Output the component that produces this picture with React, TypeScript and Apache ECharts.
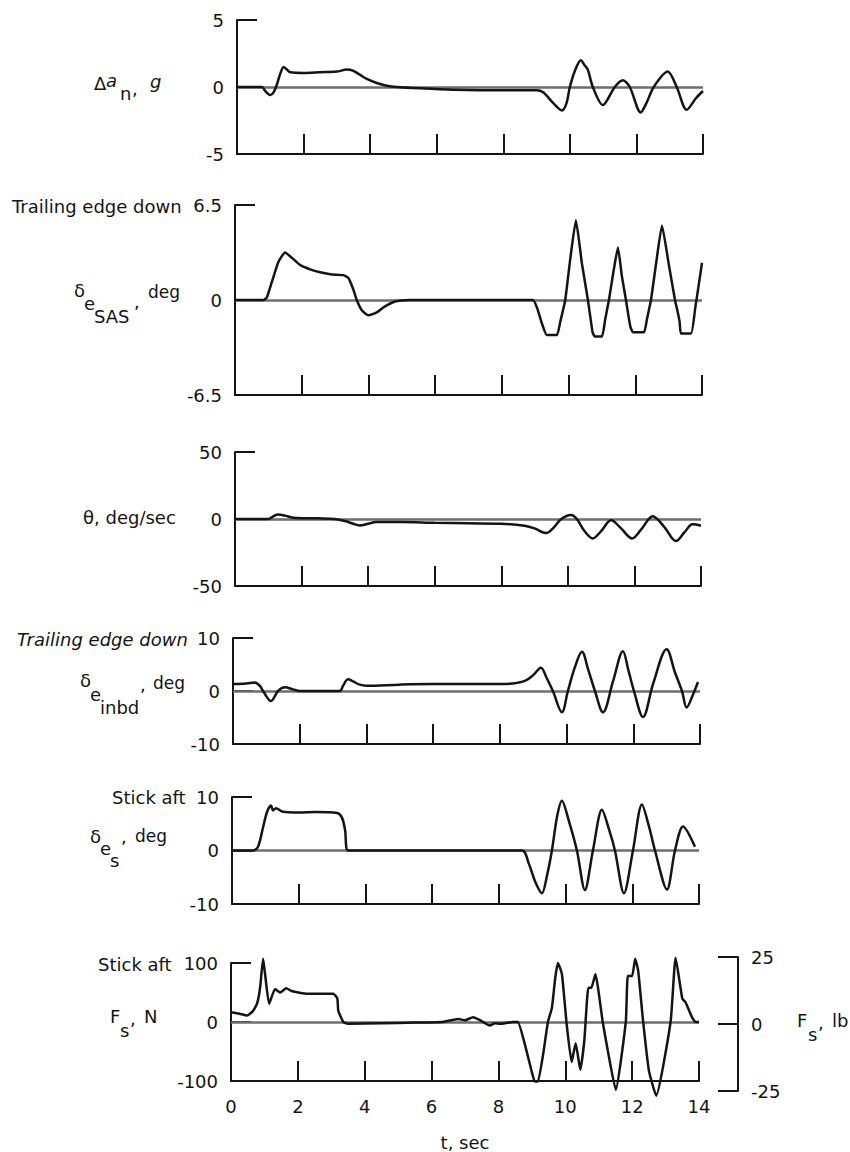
import React, { useEffect, useRef } from 'react';
import * as echarts from 'echarts';

const FONT = "'DejaVu Sans', 'Liberation Sans', sans-serif";
const INK = '#141414';
const ZERO = '#6e6e6e';

// time axis (sec)
const timeMin = 0;
const timeMax = 14;
const timeStep = 2;

// Δa_n, g
const anData: [number, number][] = [
  [0, 0], [0.75, 0], [0.85, -0.3], [1.0, -0.6], [1.1, -0.4], [1.2, 0.2], [1.3, 1.0], [1.4, 1.5],
  [1.5, 1.3], [1.6, 1.1], [2.0, 1.05], [2.5, 1.1], [3.0, 1.15], [3.3, 1.3], [3.5, 1.2], [3.7, 0.9],
  [3.9, 0.6], [4.2, 0.3], [4.5, 0.1], [4.8, 0], [5.5, -0.1], [6.5, -0.2], [8.0, -0.25], [9.0, -0.25],
  [9.2, -0.4], [9.5, -1.2], [9.76, -1.75], [9.9, -1.2], [10.0, 0], [10.15, 1.2], [10.33, 2.0],
  [10.45, 1.6], [10.54, 1.3], [10.69, 0], [10.99, -1.35], [11.35, 0], [11.59, 0.5], [11.8, 0],
  [12.13, -1.9], [12.3, -1.2], [12.52, 0], [12.94, 1.15], [13.21, 0], [13.51, -1.7], [13.8, -0.8], [14, -0.3],
];

// δ_eSAS, deg
const sasData: [number, number][] = [
  [0, 0], [0.85, 0], [0.95, 0.15], [1.1, 1.2], [1.3, 2.6], [1.5, 3.25], [1.7, 2.9], [1.95, 2.4],
  [2.25, 2.1], [2.55, 1.9], [2.9, 1.75], [3.25, 1.7], [3.4, 1.5], [3.55, 0.7], [3.65, 0], [3.8, -0.7],
  [4.0, -1.05], [4.25, -0.85], [4.45, -0.5], [4.8, -0.1], [5.2, 0], [8.93, 0], [9.05, -0.5], [9.2, -1.6],
  [9.35, -2.4], [9.65, -2.4], [9.75, -1.5], [9.9, 0], [10.05, 2.8], [10.22, 5.45], [10.4, 2.5],
  [10.58, 0], [10.72, -2.2], [10.79, -2.5], [11.0, -2.5], [11.1, -1.3], [11.21, 0], [11.35, 2.0],
  [11.48, 3.6], [11.6, 1.6], [11.72, 0], [11.85, -1.8], [11.93, -2.2], [12.26, -2.2], [12.35, -1.3],
  [12.47, 0], [12.63, 2.6], [12.8, 5.1], [13.0, 2.5], [13.19, 0], [13.27, -0.8], [13.33, -1.5],
  [13.37, -2.3], [13.67, -2.3], [13.8, -0.5], [13.9, 1.0], [14, 2.55],
];

// θ, deg/sec
const qData: [number, number][] = [
  [0, 0], [1.0, 0], [1.15, 2], [1.3, 3.4], [1.5, 2.5], [1.75, 1.0], [2.5, 0.5], [3.0, 0], [3.3, -1.5],
  [3.55, -3.5], [3.75, -4.8], [4.0, -3.5], [4.25, -2.2], [5.0, -2.2], [6.0, -2.8], [7.0, -3.2],
  [8.0, -3.5], [8.7, -5], [9.0, -7], [9.35, -10.5], [9.55, -7], [9.8, 0], [10.1, 3], [10.27, 0],
  [10.5, -9], [10.75, -14.5], [11.0, -9], [11.3, -1], [11.6, -7], [11.93, -14.5], [12.2, -8],
  [12.55, 2], [12.9, -6], [13.25, -16.5], [13.5, -10], [13.75, -4], [14, -5],
];

// δ_e inbd, deg
const inbdData: [number, number][] = [
  [0, 1.3], [0.4, 1.4], [0.65, 1.6], [0.8, 1.0], [0.9, 0], [1.14, -1.9], [1.35, 0], [1.56, 0.7],
  [1.8, 0.3], [2.0, 0], [3.2, 0], [3.3, 1.0], [3.45, 2.2], [3.6, 1.8], [3.8, 1.2], [4.0, 1.0],
  [5.0, 1.2], [6.0, 1.3], [7.0, 1.3], [8.0, 1.3], [8.36, 1.4], [8.75, 1.9], [9.0, 3.0], [9.23, 4.4],
  [9.4, 2.5], [9.59, 0], [9.86, -4.0], [10.04, 0], [10.25, 4.5], [10.46, 7.4], [10.65, 4], [10.85, 0],
  [11.09, -4.0], [11.4, 2], [11.69, 7.5], [11.85, 4], [12.02, 0], [12.29, -4.9], [12.6, 1.5],
  [13.0, 7.9], [13.25, 3.5], [13.46, 0], [13.6, -3.1], [13.8, -0.5], [13.94, 1.7],
];

// δ_es, deg
const esData: [number, number][] = [
  [0, 0], [0.63, 0], [0.78, 0.7], [0.93, 4.3], [1.05, 7.2], [1.17, 8.4], [1.23, 7.5], [1.32, 7.9],
  [1.5, 7.3], [2.0, 7.1], [2.5, 7.2], [3.15, 7.0], [3.3, 6.1], [3.39, 3.8], [3.48, 0], [8.69, 0],
  [8.9, -2.5], [9.1, -6.0], [9.29, -8.0], [9.45, -4.5], [9.59, 0], [9.75, 6.5], [9.89, 9.3],
  [10.1, 5.5], [10.34, 0], [10.58, -7.4], [10.82, 0], [11.09, 7.6], [11.3, 4.0], [11.48, 0],
  [11.75, -8.0], [12.02, 0], [12.29, 8.6], [12.5, 4.5], [12.68, 0], [13.04, -7.3], [13.28, 0],
  [13.52, 4.5], [13.88, 0.7],
];

// F_s, N
const fsData: [number, number][] = [
  [0, 16.5], [0.25, 14], [0.48, 11], [0.65, 18], [0.78, 31], [0.87, 58], [0.96, 107], [1.02, 81],
  [1.14, 31], [1.32, 56], [1.47, 50], [1.65, 57], [1.83, 52], [2.28, 48], [3.06, 48], [3.18, 40],
  [3.21, 19], [3.36, 0], [3.5, -3], [4.5, -2], [5.5, -1], [6.3, 0], [6.8, 5], [7.0, 3], [7.24, 8],
  [7.45, 3], [7.74, -6], [7.9, -2], [8.04, -3], [8.2, -2], [8.43, 0], [8.58, 0], [8.8, -40],
  [9.0, -85], [9.09, -101], [9.18, -101], [9.35, -50], [9.48, 0], [9.6, 24], [9.7, 75], [9.78, 100],
  [9.9, 81], [10.04, -3], [10.19, -68], [10.31, -36], [10.45, -81], [10.57, -31], [10.69, 58],
  [10.78, 58], [10.9, 81], [11.12, 0], [11.27, -48], [11.51, -115], [11.81, 0], [11.87, 78],
  [12.0, 78], [12.09, 107], [12.18, 87], [12.33, 0], [12.5, -82], [12.72, -125], [13.15, 0],
  [13.3, 109], [13.5, 40], [13.6, 33], [13.8, 7], [13.9, 0], [14, 0],
];

// y-axis ranges (min, max, step) per panel
const anRange = [-5, 5, 5];
const sasRange = [-6.5, 6.5, 6.5];
const qRange = [-50, 50, 50];
const inbdRange = [-10, 10, 10];
const esRange = [-10, 10, 10];
const fsRange = [-100, 100, 100];
const fsLbRange = [-25, 25, 25];

const seriesList = [anData, sasData, qData, inbdData, esData, fsData];
const rangeList = [anRange, sasRange, qRange, inbdRange, esRange, fsRange];

// layout (pixels)
const layout = [
  { left: 237, top: 20, width: 466, height: 134, smooth: 0.3 },
  { left: 235, top: 205, width: 467, height: 190, smooth: 0.15 },
  { left: 235, top: 452, width: 466, height: 134, smooth: 0.35 },
  { left: 233, top: 638, width: 467, height: 106, smooth: 0.35 },
  { left: 232, top: 797, width: 467, height: 107, smooth: 0.3 },
  { left: 231, top: 963, width: 468, height: 119, smooth: 0.15 },
];

type Piece = { t: string; x: number; y: number; size?: number; italic?: boolean };
const labelPieces: Piece[] = [
  // Δa_n, g
  { t: 'Δ', x: 94, y: 83 },
  { t: 'a', x: 106, y: 80, italic: true },
  { t: 'n', x: 120, y: 93 },
  { t: ',', x: 132, y: 88 },
  { t: 'g', x: 150, y: 81, italic: true },
  // δ_eSAS
  { t: 'Trailing edge down', x: 12, y: 206 },
  { t: 'δ', x: 74, y: 290 },
  { t: 'e', x: 84, y: 303 },
  { t: 'SAS', x: 94, y: 316 },
  { t: ',', x: 134, y: 301 },
  { t: 'deg', x: 148, y: 292, size: 17 },
  // θ
  { t: 'θ, deg/sec', x: 83, y: 517 },
  // δ_e inbd
  { t: 'Trailing edge down', x: 17, y: 639, italic: true },
  { t: 'δ', x: 80, y: 680 },
  { t: 'e', x: 90, y: 694 },
  { t: 'inbd', x: 100, y: 707 },
  { t: ',', x: 140, y: 684 },
  { t: 'deg', x: 153, y: 683, size: 17 },
  // δ_es
  { t: 'Stick aft', x: 112, y: 797 },
  { t: 'δ', x: 90, y: 836 },
  { t: 'e', x: 100, y: 848 },
  { t: 's', x: 110, y: 860 },
  { t: ',', x: 121, y: 836 },
  { t: 'deg', x: 135, y: 836, size: 17 },
  // F_s, N
  { t: 'Stick aft', x: 98, y: 964 },
  { t: 'F', x: 110, y: 1016 },
  { t: 's', x: 120, y: 1030 },
  { t: ',', x: 130, y: 1018 },
  { t: 'N', x: 144, y: 1016 },
  // F_s, lb
  { t: 'F', x: 797, y: 1020 },
  { t: 's', x: 808, y: 1034 },
  { t: ',', x: 818, y: 1022 },
  { t: 'lb', x: 832, y: 1020 },
];

const axisLineStyle = { color: INK, width: 2 };

export default function App() {
  const ref = useRef<HTMLDivElement>(null);
  useEffect(() => {
    if (!ref.current) return;
    const chart = echarts.init(ref.current, undefined, { renderer: 'svg' });

    const grids: any[] = layout.map((l) => ({
      left: l.left, top: l.top, width: l.width, height: l.height, containLabel: false,
    }));
    grids.push({ left: 718, top: 957, width: 20, height: 134, containLabel: false });

    const xAxes: any[] = layout.map((_, i) => ({
      gridIndex: i,
      type: 'value',
      min: timeMin,
      max: timeMax,
      interval: timeStep,
      axisLine: { show: true, onZero: false, lineStyle: axisLineStyle },
      axisTick: { show: true, inside: true, length: 20, lineStyle: axisLineStyle },
      axisLabel: {
        show: i === 5, margin: 16, fontSize: 18, fontFamily: FONT, color: INK,
        showMinLabel: true, showMaxLabel: true,
      },
      splitLine: { show: false },
      name: i === 5 ? 't, sec' : '',
      nameLocation: 'middle',
      nameGap: 52,
      nameTextStyle: { fontSize: 18, fontFamily: FONT, color: INK },
    }));
    xAxes.push({ gridIndex: 6, type: 'value', min: 0, max: 1, show: false });

    const yAxes: any[] = rangeList.map((r, i) => ({
      gridIndex: i,
      type: 'value',
      min: r[0],
      max: r[1],
      interval: r[2],
      axisLine: { show: true, onZero: false, lineStyle: axisLineStyle },
      axisTick: { show: true, inside: true, length: 20, lineStyle: axisLineStyle },
      axisLabel: {
        margin: 13, fontSize: 18, fontFamily: FONT, color: INK,
        showMinLabel: true, showMaxLabel: true,
      },
      splitLine: { show: false },
    }));
    yAxes.push({
      gridIndex: 6,
      type: 'value',
      position: 'right',
      min: fsLbRange[0],
      max: fsLbRange[1],
      interval: fsLbRange[2],
      axisLine: { show: true, onZero: false, lineStyle: axisLineStyle },
      axisTick: { show: true, inside: true, length: 20, lineStyle: axisLineStyle },
      axisLabel: {
        margin: 13, fontSize: 18, fontFamily: FONT, color: INK,
        showMinLabel: true, showMaxLabel: true,
      },
      splitLine: { show: false },
    });

    const series: any[] = seriesList.map((d, i) => ({
      type: 'line',
      xAxisIndex: i,
      yAxisIndex: i,
      data: d,
      showSymbol: false,
      symbol: 'none',
      smooth: layout[i].smooth,
      clip: false,
      lineStyle: { color: INK, width: 2.5 },
      z: 3,
      markLine: {
        silent: true,
        symbol: 'none',
        label: { show: false },
        lineStyle: { color: ZERO, width: 2.5, type: 'solid' },
        data: [{ yAxis: 0 }],
        z: 2,
      },
    }));

    const graphic = labelPieces.map((p) => ({
      type: 'text',
      x: p.x,
      y: p.y,
      silent: true,
      style: {
        text: p.t,
        fill: INK,
        fontSize: p.size ?? 18,
        fontFamily: FONT,
        fontStyle: p.italic ? 'italic' : 'normal',
        textAlign: 'left',
        align: 'left',
        textVerticalAlign: 'middle',
        verticalAlign: 'middle',
      },
    }));

    chart.setOption({
      animation: false,
      backgroundColor: '#ffffff',
      grid: grids,
      xAxis: xAxes,
      yAxis: yAxes,
      series,
      graphic,
    });
    return () => chart.dispose();
  }, []);

  return (
    <div
      ref={ref}
      style={{ position: 'absolute', left: 0, top: 0, width: 850, height: 1152, background: '#fff' }}
    />
  );
}
